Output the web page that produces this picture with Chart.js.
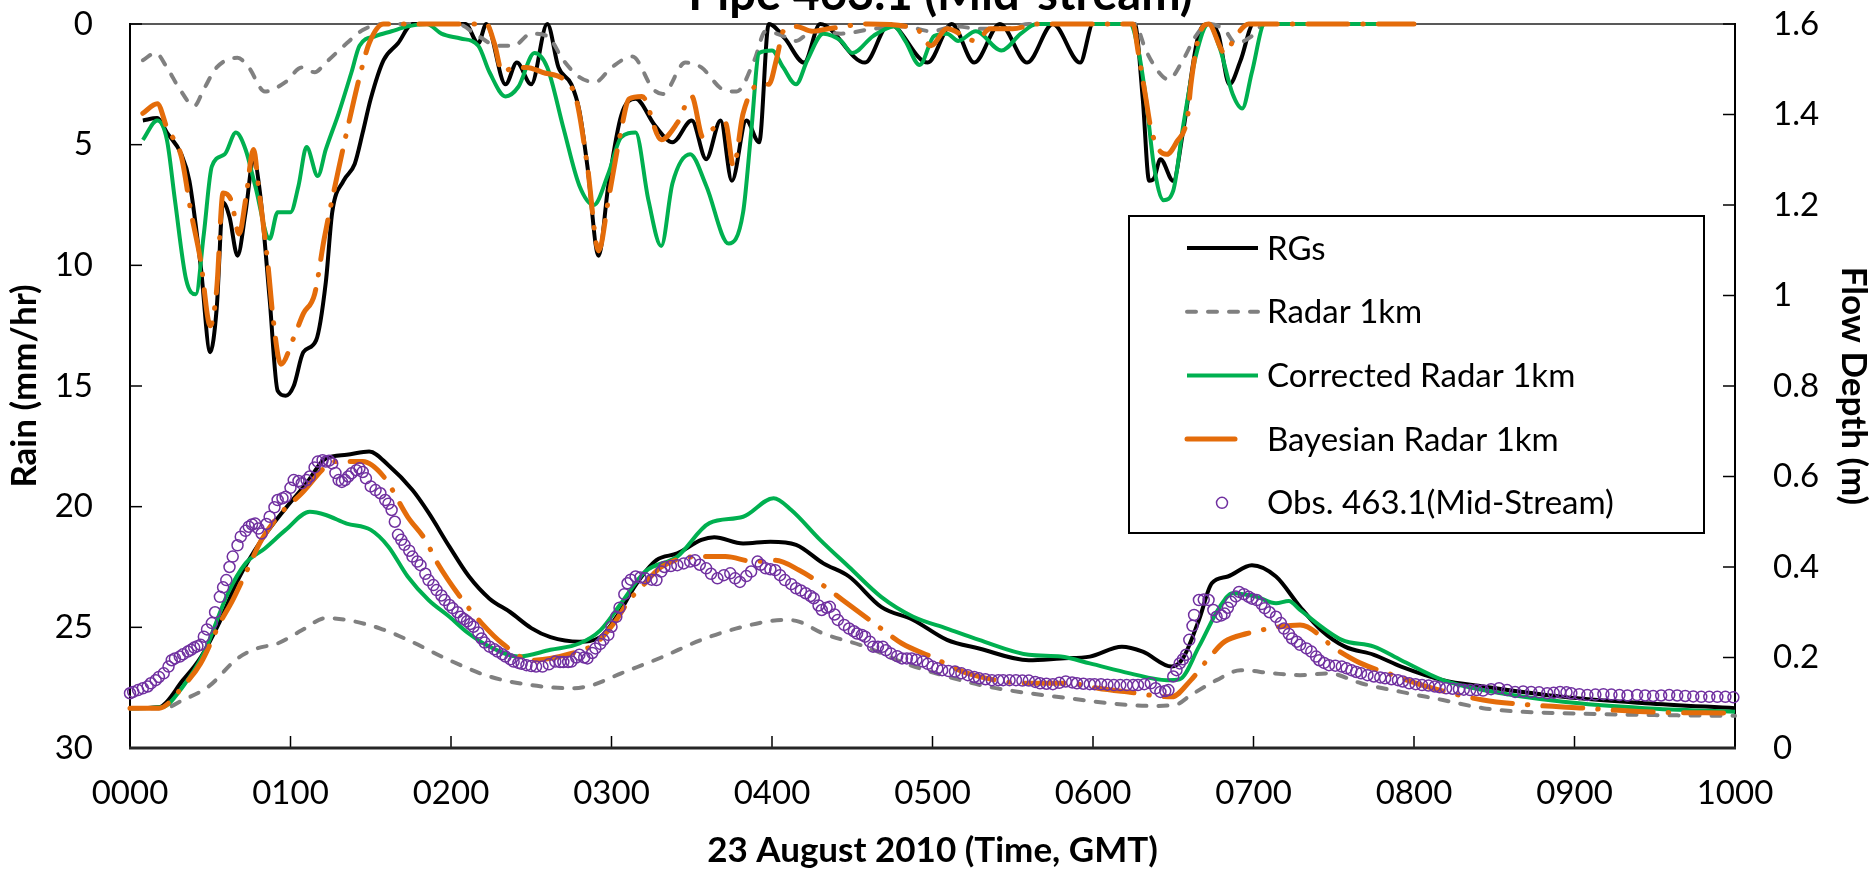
<!DOCTYPE html>
<html>
<head>
<meta charset="utf-8">
<script src="https://cdn.jsdelivr.net/npm/chart.js@4.4.0/dist/chart.umd.min.js"></script>
<style>
  html, body { margin: 0; padding: 0; background: #fff; overflow: hidden; }
  canvas { display: block; }
</style>
</head>
<body>
<canvas id="flowChart" width="1874" height="872"></canvas>
<script>
const chartTitle = "Pipe 463.1 (Mid-stream)";
const xTitle = "23 August 2010 (Time, GMT)";
const rainTitle = "Rain (mm/hr)";
const flowTitle = "Flow Depth (m)";
const legendNames = ["RGs", "Radar 1km", "Corrected Radar 1km", "Bayesian Radar 1km", "Obs. 463.1(Mid-Stream)"];

// rainfall (hours after 0000, mm/hr)
const rgRainT = [0.08,0.17,0.23,0.32,0.37,0.44,0.50,0.54,0.58,0.62,0.67,0.72,0.77,0.81,0.87,0.92,0.97,1.02,1.08,1.16,1.22,1.26,1.33,1.40,1.45,1.50,1.58,1.67,1.76,2.09,2.17,2.22,2.34,2.41,2.50,2.60,2.67,2.75,2.80,2.85,2.92,2.98,3.06,3.15,3.27,3.38,3.50,3.59,3.68,3.75,3.84,3.92,3.98,4.08,4.20,4.30,4.58,4.73,4.97,5.12,5.26,5.42,5.59,5.75,5.92,6.00,6.26,6.31,6.35,6.38,6.42,6.50,6.56,6.66,6.72,6.78,6.85,6.92,7.00,8.00];
const rgRainV = [4.0,3.9,4.5,5.4,6.5,10.0,13.6,11.8,7.4,8.0,9.6,7.8,5.6,7.0,11.4,15.2,15.4,15.0,13.6,13.1,10.7,7.8,6.5,5.8,4.5,3.1,1.5,0.8,0,0,0.8,0,2.5,1.6,2.5,0,1.8,2.5,3.6,5.9,9.6,6.7,3.8,3.1,4.2,4.9,4.0,5.6,4.0,6.5,4.0,4.9,0,0.6,1.6,0,1.6,0,1.6,0,1.6,0,1.6,0,1.6,0,0,3.1,6.5,6.4,5.6,6.5,4.5,0.4,0,0.4,2.5,1.5,0,0];

const radarRainT = [0.08,0.16,0.23,0.31,0.40,0.46,0.54,0.67,0.74,0.84,0.97,1.07,1.15,1.22,1.35,1.45,1.58,2.04,2.17,2.29,2.39,2.50,2.60,2.70,2.80,2.90,3.00,3.13,3.26,3.32,3.46,3.56,3.69,3.78,3.89,3.96,4.07,4.15,4.25,4.43,4.63,4.83,4.99,5.14,5.30,5.45,5.60,6.26,6.33,6.41,6.47,6.56,6.64,6.72,6.82,6.89,6.99,7.07,8.00];
const radarRainV = [1.5,1.2,1.8,2.7,3.4,2.7,1.8,1.4,1.8,2.8,2.4,1.8,2.0,1.6,0.8,0.25,0,0,0.5,0.9,0.9,0.4,0.5,1.5,2.2,2.4,1.8,1.35,2.7,2.9,1.6,1.8,2.7,2.8,1.5,0.3,0.5,0.7,0.3,0.4,0.2,0.1,0.3,0.1,0.2,0.2,0,0,1.1,2.0,2.3,1.5,0.5,0,0.25,0.8,0.5,0,0];

const corrRainT = [0.08,0.17,0.23,0.28,0.35,0.41,0.46,0.51,0.59,0.66,0.72,0.78,0.87,0.92,1.00,1.05,1.10,1.17,1.22,1.30,1.38,1.43,1.53,1.63,1.73,1.85,1.94,2.06,2.17,2.24,2.34,2.42,2.52,2.60,2.70,2.80,2.89,2.98,3.06,3.15,3.23,3.31,3.38,3.49,3.59,3.73,3.82,3.87,3.92,4.00,4.07,4.15,4.22,4.32,4.43,4.50,4.63,4.76,4.83,4.92,5.01,5.09,5.16,5.27,5.43,5.55,5.65,6.23,6.28,6.33,6.38,6.44,6.50,6.56,6.64,6.72,6.79,6.87,6.93,6.99,7.07,8.00];
const corrRainV = [4.8,4.0,4.8,7.3,10.6,11.2,8.7,5.9,5.4,4.5,5.2,6.7,8.9,7.8,7.8,6.7,5.1,6.3,5.2,3.7,2.0,0.9,0.5,0.3,0.1,0,0.4,0.6,0.9,2.0,3.0,2.6,1.2,1.8,4.3,6.7,7.5,6.2,4.7,4.5,7.3,9.2,6.6,5.4,6.7,9.1,7.8,4.5,1.2,1.1,1.8,2.5,1.5,0.4,0.7,1.2,0.5,0.1,0.7,1.7,0.5,0.4,0.7,0.3,1.1,0.4,0,0,1.0,3.1,5.9,7.3,6.9,4.3,1.35,0,1.0,2.9,3.5,2.0,0,0];

const bayesRainT = [0.08,0.17,0.23,0.32,0.38,0.44,0.50,0.54,0.58,0.63,0.68,0.72,0.77,0.80,0.86,0.89,0.94,1.02,1.08,1.15,1.21,1.30,1.38,1.43,1.49,1.58,2.22,2.27,2.32,2.39,2.47,2.57,2.72,2.78,2.85,2.92,2.98,3.06,3.11,3.19,3.31,3.41,3.50,3.57,3.64,3.71,3.76,3.82,3.92,3.98,4.03,4.07,4.15,4.25,4.35,4.60,4.90,4.99,5.09,5.27,5.36,5.50,5.65,6.25,6.28,6.33,6.36,6.41,6.46,6.52,6.59,6.61,6.66,6.72,6.82,6.89,6.97,8.00];
const bayesRainV = [3.7,3.3,4.3,5.5,7.8,9.8,12.5,11.0,7.0,7.3,8.7,7.3,5.2,6.7,10.0,12.1,14.1,13.0,12.0,11.2,8.9,6.0,3.6,2.2,0.8,0,0,0.8,2.0,1.8,1.8,2.0,2.4,3.1,5.9,9.4,7.3,4.4,3.1,3.0,4.8,4.1,3.0,4.7,4.3,4.1,5.9,3.7,2.5,2.5,1.4,0.3,0.1,0.3,0.2,0,0.2,0.9,0.2,0.7,0.2,0.2,0,0,1.1,3.1,4.3,5.2,5.4,4.9,3.8,2.5,0.5,0,1.2,0.5,0,0];

// flow depth (hours after 0000, m)
const rgFlowT = [0,0.18,0.33,0.44,0.56,0.67,0.82,0.97,1.10,1.22,1.35,1.49,1.61,1.76,1.86,1.99,2.11,2.24,2.37,2.50,2.62,2.80,2.93,3.05,3.15,3.28,3.41,3.56,3.64,3.82,3.99,4.15,4.32,4.48,4.68,4.88,5.09,5.29,5.60,5.80,5.98,6.18,6.31,6.49,6.56,6.66,6.74,6.84,6.99,7.14,7.29,7.42,7.57,7.75,7.92,8.18,8.43,8.93,9.44,10];
const rgFlowV = [0.088,0.09,0.15,0.20,0.28,0.37,0.46,0.53,0.585,0.64,0.648,0.655,0.625,0.57,0.52,0.445,0.38,0.33,0.30,0.265,0.245,0.235,0.245,0.30,0.36,0.415,0.43,0.46,0.466,0.452,0.456,0.449,0.408,0.379,0.312,0.283,0.239,0.22,0.194,0.198,0.202,0.224,0.213,0.18,0.198,0.283,0.364,0.379,0.404,0.379,0.312,0.261,0.224,0.206,0.18,0.15,0.136,0.113,0.099,0.088];

const radarFlowT = [0,0.21,0.33,0.49,0.67,0.79,0.92,1.07,1.22,1.35,1.56,1.73,1.99,2.24,2.50,2.75,2.88,3.06,3.31,3.56,3.82,4.07,4.15,4.32,4.58,4.83,5.09,5.34,5.60,5.85,6.10,6.36,6.51,6.61,6.77,6.92,7.12,7.29,7.47,7.67,7.92,8.18,8.43,8.68,8.93,9.44,10];
const radarFlowV = [0.088,0.088,0.106,0.136,0.198,0.22,0.231,0.26,0.287,0.283,0.264,0.239,0.194,0.158,0.139,0.132,0.139,0.165,0.20,0.239,0.268,0.283,0.281,0.253,0.224,0.187,0.158,0.136,0.121,0.11,0.099,0.093,0.095,0.117,0.15,0.172,0.165,0.161,0.165,0.143,0.124,0.106,0.088,0.08,0.077,0.073,0.071];

const corrFlowT = [0,0.20,0.33,0.46,0.61,0.72,0.84,0.97,1.12,1.22,1.35,1.50,1.61,1.73,1.86,1.99,2.11,2.24,2.42,2.62,2.80,2.93,3.06,3.21,3.41,3.61,3.82,4.01,4.12,4.30,4.48,4.68,4.88,5.09,5.29,5.60,5.80,5.98,6.23,6.46,6.54,6.66,6.79,6.87,7.02,7.14,7.22,7.29,7.55,7.75,7.92,8.18,8.43,8.93,9.44,10];
const corrFlowV = [0.088,0.09,0.136,0.21,0.342,0.408,0.441,0.482,0.522,0.515,0.496,0.482,0.445,0.379,0.327,0.29,0.253,0.224,0.202,0.217,0.231,0.26,0.32,0.39,0.423,0.497,0.511,0.552,0.526,0.46,0.40,0.334,0.29,0.264,0.239,0.206,0.202,0.187,0.165,0.15,0.152,0.224,0.312,0.342,0.334,0.32,0.325,0.305,0.239,0.224,0.194,0.15,0.128,0.102,0.088,0.08];

const bayesFlowT = [0,0.18,0.33,0.44,0.56,0.64,0.72,0.82,0.94,1.07,1.22,1.28,1.45,1.58,1.73,1.84,1.91,2.08,2.19,2.32,2.50,2.75,2.90,3.03,3.11,3.17,3.31,3.55,3.71,3.89,4.02,4.17,4.30,4.44,4.68,4.81,4.99,5.22,5.60,5.85,6.03,6.21,6.49,6.61,6.72,6.82,6.96,7.10,7.29,7.52,7.67,7.87,8.05,8.43,8.73,9.06,9.44,10];
const bayesFlowV = [0.088,0.088,0.136,0.187,0.276,0.327,0.386,0.46,0.519,0.563,0.622,0.633,0.633,0.60,0.511,0.46,0.412,0.323,0.276,0.231,0.194,0.209,0.231,0.283,0.327,0.349,0.40,0.423,0.423,0.412,0.415,0.393,0.364,0.327,0.264,0.231,0.202,0.165,0.143,0.143,0.132,0.124,0.113,0.15,0.198,0.235,0.253,0.264,0.272,0.217,0.187,0.161,0.139,0.106,0.095,0.088,0.08,0.077];

// observed depth at 463.1
const obsT = [0.00,0.02,0.05,0.08,0.11,0.13,0.16,0.18,0.21,0.24,0.26,0.28,0.31,0.33,0.36,0.38,0.40,0.42,0.44,0.46,0.48,0.51,0.53,0.56,0.58,0.60,0.62,0.64,0.67,0.69,0.72,0.74,0.76,0.78,0.80,0.82,0.85,0.87,0.90,0.92,0.95,0.97,1.00,1.02,1.05,1.07,1.10,1.12,1.15,1.17,1.20,1.22,1.24,1.26,1.28,1.30,1.32,1.34,1.36,1.38,1.41,1.43,1.45,1.47,1.50,1.53,1.56,1.59,1.61,1.63,1.65,1.67,1.69,1.71,1.74,1.76,1.79,1.81,1.84,1.86,1.89,1.91,1.94,1.96,1.99,2.01,2.04,2.06,2.08,2.10,2.12,2.14,2.17,2.19,2.21,2.24,2.27,2.29,2.32,2.34,2.37,2.39,2.42,2.44,2.47,2.50,2.53,2.57,2.61,2.65,2.68,2.70,2.73,2.75,2.78,2.80,2.83,2.85,2.88,2.90,2.93,2.95,2.98,3.00,3.03,3.05,3.08,3.10,3.12,3.15,3.18,3.21,3.25,3.28,3.31,3.33,3.37,3.41,3.45,3.49,3.52,3.55,3.59,3.62,3.66,3.70,3.74,3.77,3.80,3.84,3.87,3.91,3.93,3.96,3.99,4.02,4.05,4.08,4.12,4.15,4.18,4.21,4.24,4.26,4.29,4.31,4.34,4.36,4.39,4.41,4.45,4.48,4.51,4.53,4.56,4.58,4.61,4.63,4.66,4.69,4.71,4.74,4.78,4.81,4.84,4.87,4.90,4.94,4.97,5.00,5.03,5.06,5.10,5.14,5.18,5.22,5.26,5.29,5.33,5.37,5.41,5.44,5.48,5.52,5.56,5.60,5.64,5.67,5.71,5.75,5.79,5.83,5.87,5.90,5.94,5.98,6.01,6.05,6.09,6.13,6.17,6.21,6.25,6.28,6.32,6.36,6.39,6.42,6.45,6.47,6.50,6.52,6.54,6.56,6.58,6.60,6.62,6.63,6.66,6.69,6.72,6.75,6.77,6.80,6.82,6.84,6.86,6.89,6.91,6.94,6.97,6.99,7.02,7.05,7.07,7.10,7.14,7.17,7.19,7.22,7.24,7.27,7.29,7.33,7.36,7.39,7.41,7.44,7.47,7.51,7.55,7.58,7.61,7.64,7.67,7.71,7.75,7.79,7.82,7.86,7.90,7.93,7.97,8.01,8.05,8.09,8.13,8.16,8.20,8.24,8.28,8.31,8.35,8.39,8.43,8.48,8.53,8.58,8.63,8.68,8.73,8.78,8.83,8.87,8.91,8.95,8.98,9.03,9.08,9.13,9.18,9.23,9.28,9.33,9.39,9.44,9.49,9.54,9.59,9.64,9.69,9.74,9.79,9.84,9.89,9.94,9.99];
const obsD = [0.121,0.124,0.128,0.132,0.136,0.143,0.150,0.157,0.165,0.180,0.194,0.198,0.202,0.207,0.213,0.217,0.222,0.225,0.228,0.246,0.262,0.276,0.300,0.334,0.355,0.371,0.400,0.423,0.448,0.467,0.480,0.489,0.494,0.496,0.485,0.474,0.495,0.511,0.532,0.548,0.552,0.555,0.575,0.592,0.590,0.585,0.592,0.600,0.620,0.633,0.636,0.633,0.635,0.629,0.608,0.592,0.588,0.592,0.600,0.607,0.614,0.618,0.610,0.596,0.578,0.570,0.563,0.548,0.540,0.526,0.500,0.471,0.460,0.449,0.436,0.423,0.412,0.404,0.385,0.371,0.360,0.349,0.337,0.327,0.316,0.309,0.300,0.290,0.285,0.280,0.274,0.268,0.255,0.242,0.233,0.224,0.218,0.213,0.207,0.202,0.196,0.191,0.188,0.186,0.183,0.181,0.180,0.180,0.185,0.191,0.190,0.190,0.190,0.191,0.200,0.206,0.200,0.198,0.210,0.220,0.230,0.239,0.250,0.268,0.290,0.310,0.340,0.364,0.372,0.379,0.377,0.375,0.372,0.371,0.390,0.400,0.402,0.404,0.408,0.412,0.415,0.405,0.397,0.385,0.375,0.382,0.386,0.375,0.367,0.380,0.390,0.412,0.405,0.397,0.395,0.393,0.382,0.371,0.362,0.353,0.348,0.342,0.336,0.331,0.315,0.305,0.310,0.312,0.295,0.283,0.272,0.264,0.258,0.253,0.250,0.246,0.235,0.224,0.224,0.224,0.216,0.209,0.203,0.198,0.198,0.198,0.195,0.191,0.186,0.180,0.176,0.172,0.170,0.169,0.165,0.161,0.157,0.154,0.152,0.150,0.150,0.150,0.150,0.150,0.149,0.149,0.146,0.143,0.142,0.141,0.144,0.147,0.145,0.143,0.142,0.141,0.141,0.141,0.140,0.139,0.139,0.139,0.139,0.139,0.141,0.143,0.132,0.124,0.126,0.128,0.158,0.172,0.187,0.196,0.206,0.239,0.270,0.294,0.327,0.328,0.327,0.305,0.290,0.293,0.297,0.310,0.323,0.335,0.345,0.340,0.334,0.330,0.327,0.318,0.309,0.300,0.290,0.276,0.264,0.252,0.242,0.235,0.228,0.220,0.213,0.202,0.194,0.188,0.183,0.182,0.180,0.176,0.172,0.168,0.165,0.161,0.158,0.156,0.154,0.152,0.150,0.147,0.143,0.141,0.139,0.138,0.136,0.134,0.132,0.131,0.130,0.129,0.128,0.128,0.127,0.130,0.132,0.128,0.124,0.125,0.124,0.123,0.121,0.122,0.124,0.123,0.121,0.119,0.117,0.118,0.119,0.118,0.117,0.116,0.117,0.116,0.115,0.116,0.117,0.116,0.115,0.114,0.113,0.113,0.113,0.113,0.112];

const pts = (t, v) => t.map((x, i) => ({ x: x, y: v[i] }));

const BLACK = "#000000", GREY = "#808080", GREEN = "#00B050", ORANGE = "#E46C0A", PURPLE = "#7030A0";
const styles = [
  { borderColor: BLACK, borderWidth: 4 },
  { borderColor: GREY, borderWidth: 4, borderDash: [9, 12], borderCapStyle: "round" },
  { borderColor: GREEN, borderWidth: 4 },
  { borderColor: ORANGE, borderWidth: 5, borderDash: [40, 15, 0.5, 15], borderCapStyle: "round" },
];

function lineSet(data, axis, st, order) {
  return Object.assign({
    data: data, yAxisID: axis, pointRadius: 0, fill: false, clip: false,
    cubicInterpolationMode: "monotone", order: order,
  }, st);
}

Chart.defaults.font.family = "Lato";
Chart.defaults.color = "#000";

// plot box wanted in page pixels
const PLOT_TOP = 24, PLOT_BOTTOM = 748, PLOT_LEFT = 130, PLOT_RIGHT = 1735;

// vertical scales add label padding above/below the plot; drop it
const noPad = s => { s.paddingTop = 0; s.paddingBottom = 0; };

// box frame and inward ticks, drawn under the lines
const frame = {
  id: "frame",
  beforeDatasetsDraw(chart) {
    const { ctx, chartArea: a, scales } = chart;
    const seg = (x1, y1, x2, y2, c, w) => {
      ctx.strokeStyle = c; ctx.lineWidth = w;
      ctx.beginPath(); ctx.moveTo(x1, y1); ctx.lineTo(x2, y2); ctx.stroke();
    };
    ctx.save();
    seg(a.left, a.top, a.right, a.top, "#595959", 2);
    seg(a.left, a.top - 1, a.left, a.bottom, BLACK, 2);
    seg(a.right, a.top - 1, a.right, a.bottom, BLACK, 2);
    scales.x.ticks.forEach(t => {
      const px = scales.x.getPixelForValue(t.value);
      seg(px, a.bottom, px, a.bottom - 12, BLACK, 1.5);
    });
    scales.yRain.ticks.forEach(t => {
      const py = scales.yRain.getPixelForValue(t.value);
      seg(a.left, py, a.left + 12, py, BLACK, 1.5);
    });
    scales.yFlow.ticks.forEach(t => {
      const py = scales.yFlow.getPixelForValue(t.value);
      seg(a.right, py, a.right - 12, py, BLACK, 1.5);
    });
    seg(a.left - 1, a.bottom, a.right + 1, a.bottom, "#262626", 3);
    // title, clipped by the top of the page
    ctx.fillStyle = BLACK;
    ctx.font = "bold 47px Lato";
    ctx.textAlign = "center";
    ctx.textBaseline = "alphabetic";
    ctx.fillText(chartTitle, (a.left + a.right) / 2 + 8, 10);
    ctx.restore();
  },
};

// boxed legend inside the plot
const boxLegend = {
  id: "boxLegend",
  afterDraw(chart) {
    const ctx = chart.ctx;
    const bx = 1129, by = 216, bw = 575, bh = 317;
    ctx.save();
    ctx.fillStyle = "#fff";
    ctx.fillRect(bx, by, bw, bh);
    ctx.strokeStyle = BLACK; ctx.lineWidth = 2;
    ctx.strokeRect(bx, by, bw, bh);
    ctx.font = "33px Lato";
    ctx.textBaseline = "middle";
    ctx.fillStyle = BLACK;
    legendNames.forEach((name, i) => {
      const y = 248 + i * 63.7;
      if (i < 4) {
        const st = styles[i];
        ctx.strokeStyle = st.borderColor;
        ctx.lineWidth = st.borderWidth;
        ctx.lineCap = st.borderCapStyle || "butt";
        ctx.setLineDash(i === 3 ? [] : (st.borderDash || []));
        ctx.beginPath();
        ctx.moveTo(1187, y);
        ctx.lineTo(i === 3 ? 1235 : 1258, y);
        ctx.stroke();
        ctx.setLineDash([]);
      } else {
        ctx.strokeStyle = PURPLE; ctx.lineWidth = 1.5;
        ctx.beginPath(); ctx.arc(1222, y, 5.5, 0, Math.PI * 2); ctx.stroke();
      }
      ctx.fillText(name, 1267, y + 1);
    });
    ctx.restore();
  },
};

new Chart(document.getElementById("flowChart"), {
  type: "line",
  data: {
    datasets: [
      {
        data: pts(obsT, obsD), yAxisID: "yFlow", showLine: false, order: 0,
        pointStyle: "circle", pointRadius: 5.5, pointBorderWidth: 1.5,
        pointBorderColor: PURPLE, pointBackgroundColor: "rgba(0,0,0,0)", clip: false,
      },
      lineSet(pts(bayesFlowT, bayesFlowV), "yFlow", styles[3], 1),
      lineSet(pts(corrFlowT, corrFlowV), "yFlow", styles[2], 2),
      lineSet(pts(radarFlowT, radarFlowV), "yFlow", styles[1], 3),
      lineSet(pts(rgFlowT, rgFlowV), "yFlow", styles[0], 4),
      lineSet(pts(bayesRainT, bayesRainV), "yRain", styles[3], 5),
      lineSet(pts(corrRainT, corrRainV), "yRain", styles[2], 6),
      lineSet(pts(radarRainT, radarRainV), "yRain", styles[1], 7),
      lineSet(pts(rgRainT, rgRainV), "yRain", styles[0], 8),
    ],
  },
  options: {
    responsive: false,
    animation: false,
    devicePixelRatio: 1,
    layout: { autoPadding: false, padding: { top: PLOT_TOP, left: 0, right: 0, bottom: 0 } },
    plugins: { legend: { display: false }, title: { display: false }, tooltip: { enabled: false } },
    scales: {
      x: {
        type: "linear", min: 0, max: 10,
        grid: { display: false, drawTicks: false },
        border: { display: false },
        ticks: {
          stepSize: 1, autoSkip: false, maxRotation: 0, padding: 26,
          font: { size: 33 },
          callback: v => String(v * 100).padStart(4, "0"),
        },
        title: { display: true, text: xTitle, font: { size: 35, weight: "bold" }, padding: { top: 0, bottom: 0 } },
        afterFit: s => { s.height = 872 - PLOT_BOTTOM; },
      },
      yRain: {
        position: "left", reverse: true, min: 0, max: 30,
        grid: { display: false, drawTicks: false },
        border: { display: false },
        ticks: { stepSize: 5, padding: 37, font: { size: 33 } },
        title: { display: true, text: rainTitle, font: { size: 35, weight: "bold" }, padding: { top: 4, bottom: 0 } },
        afterFit: s => { s.width = PLOT_LEFT; noPad(s); },
      },
      yFlow: {
        position: "right", min: 0, max: 1.6,
        grid: { display: false, drawTicks: false },
        border: { display: false },
        ticks: { stepSize: 0.2, padding: 38, font: { size: 33 }, callback: v => String(Math.round(v * 10) / 10) },
        title: { display: true, text: flowTitle, font: { size: 35, weight: "bold" }, padding: { top: 0, bottom: 0 } },
        afterFit: s => { s.width = 1874 - PLOT_RIGHT; noPad(s); },
      },
    },
  },
  plugins: [frame, boxLegend],
});
</script>
</body>
</html>
